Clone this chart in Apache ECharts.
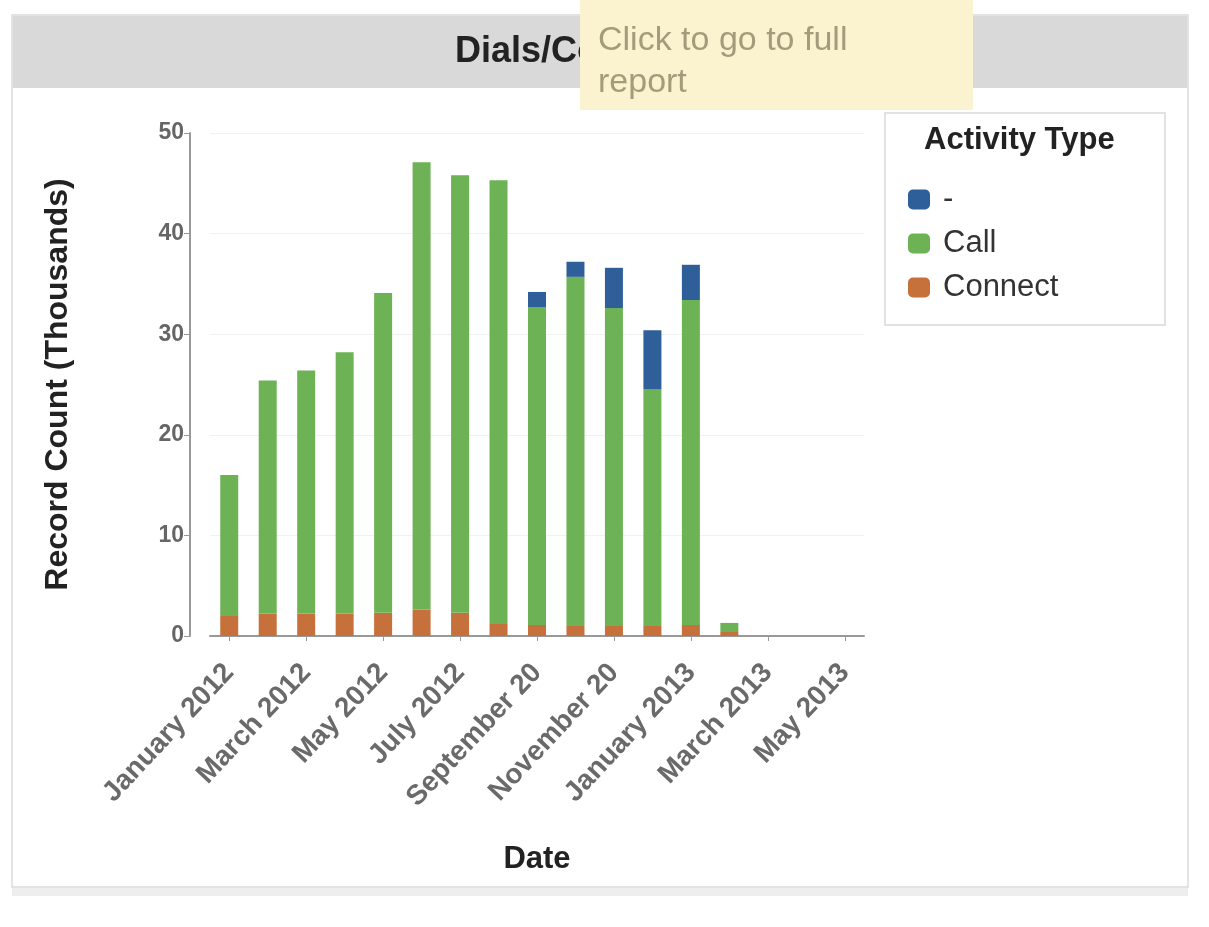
<!DOCTYPE html>
<html>
<head>
<meta charset="utf-8">
<script src="https://cdn.jsdelivr.net/npm/echarts@6/dist/echarts.min.js"></script>
<style>
    html, body { margin: 0; padding: 0; background: #fff; }
    #main { width: 1209px; height: 927px; }
</style>
</head>
<body>
<div id="main"></div>
<script>
// months shown on the category axis
var months = ['January 2012', 'February 2012', 'March 2012', 'April 2012', 'May 2012', 'June 2012',
    'July 2012', 'August 2012', 'September 2012', 'October 2012', 'November 2012', 'December 2012',
    'January 2013', 'February 2013', 'March 2013', 'April 2013', 'May 2013'];
// labels as printed under the axis (every other month, some cut short)
var tickLabels = ['January 2012', '', 'March 2012', '', 'May 2012', '', 'July 2012', '',
    'September 20', '', 'November 20', '', 'January 2013', '', 'March 2013', '', 'May 2013'];
// record counts in thousands
var connectVals = [2.0, 2.2, 2.2, 2.2, 2.3, 2.6, 2.3, 1.2, 1.1, 1.0, 1.0, 1.0, 1.1, 0.4, null, null, null];
var callVals = [14.0, 23.2, 24.2, 26.0, 31.8, 44.5, 43.5, 44.1, 31.6, 34.7, 31.6, 23.5, 32.3, 0.9, null, null, null];
var dashVals = [null, null, null, null, null, null, null, null, 1.5, 1.5, 4.0, 5.9, 3.5, null, null, null, null];
var yTicks = [0, 10, 20, 30, 40, 50];

var FONT = "'Liberation Sans', Arial, sans-serif";
var chart = echarts.init(document.getElementById('main'));

var option = {
    backgroundColor: '#fff',
    animation: false,
    textStyle: { fontFamily: FONT },
    grid: { left: 210, right: 345, top: 133, bottom: 291 },
    legend: {
        orient: 'vertical',
        left: 903,
        top: 179,
        itemWidth: 22,
        itemHeight: 20,
        itemGap: 13,
        icon: 'roundRect',
        data: ['-', 'Call', 'Connect'],
        textStyle: { fontSize: 31, color: '#333', fontFamily: FONT, padding: [0, 0, 0, 8] }
    },
    xAxis: {
        type: 'category',
        data: months,
        name: 'Date',
        nameLocation: 'middle',
        nameGap: 208,
        nameTextStyle: { fontSize: 31, fontWeight: 'bold', color: '#222', fontFamily: FONT },
        axisLine: { lineStyle: { color: '#999', width: 2 } },
        axisTick: { show: true, interval: 1, alignWithLabel: true, lineStyle: { color: '#999' } },
        axisLabel: {
            interval: 0,
            rotate: 47,
            margin: 32,
            fontSize: 28,
            fontWeight: 'bold',
            color: '#6a6a6a',
            fontFamily: FONT,
            formatter: function (v, i) { return tickLabels[i]; }
        }
    },
    yAxis: {
        type: 'value',
        min: yTicks[0],
        max: yTicks[yTicks.length - 1],
        interval: 10,
        offset: 20,
        name: 'Record Count (Thousands)',
        nameLocation: 'middle',
        nameRotate: 90,
        nameGap: 116,
        nameTextStyle: { fontSize: 32, fontWeight: 'bold', color: '#222', fontFamily: FONT },
        axisLine: { show: true, lineStyle: { color: '#999', width: 2 } },
        axisTick: { show: true, length: 6, lineStyle: { color: '#999' } },
        axisLabel: { fontSize: 23, fontWeight: 'bold', color: '#666', margin: 6, fontFamily: FONT },
        splitLine: { lineStyle: { color: '#f1f1f1' } }
    },
    series: [
        {
            name: 'Connect', type: 'bar', stack: 'a', barWidth: 18,
            itemStyle: { color: '#c6703c' },
            data: connectVals
        },
        {
            name: 'Call', type: 'bar', stack: 'a', barWidth: 18,
            itemStyle: { color: '#6db356' },
            data: callVals
        },
        {
            name: '-', type: 'bar', stack: 'a', barWidth: 18,
            itemStyle: { color: '#2f5f98' },
            data: dashVals
        }
    ],
    graphic: [
        // panel frame and title band
        { type: 'rect', z: -10, shape: { x: 12, y: 15, width: 1176, height: 872 },
          style: { fill: '#fff', stroke: '#e3e3e3', lineWidth: 2 } },
        { type: 'rect', z: -9, shape: { x: 13, y: 16, width: 1174, height: 72 },
          style: { fill: '#d9d9d9' } },
        { type: 'rect', z: -10, shape: { x: 12, y: 888, width: 1176, height: 8 },
          style: { fill: '#eeeeee' } },
        { type: 'text', z: 5, left: 455, top: 34,
          style: { text: 'Dials/Connects', fontSize: 36, fontWeight: 'bold', fill: '#222', fontFamily: FONT } },
        // hover tip over the title
        { type: 'rect', z: 10, shape: { x: 580, y: 0, width: 393, height: 110 },
          style: { fill: '#fbf2cf' } },
        { type: 'text', z: 11, left: 598, top: 20,
          style: { text: 'Click to go to full\nreport', fontSize: 34, lineHeight: 42, fill: '#a39b7c', fontFamily: FONT } },
        // legend box
        { type: 'rect', z: -5, shape: { x: 885, y: 113, width: 280, height: 212 },
          style: { fill: '#fff', stroke: '#e2e2e2', lineWidth: 2 } },
        { type: 'text', left: 924, top: 125,
          style: { text: 'Activity Type', fontSize: 31, fontWeight: 'bold', fill: '#222', fontFamily: FONT } }
    ]
};

chart.setOption(option);
</script>
</body>
</html>
